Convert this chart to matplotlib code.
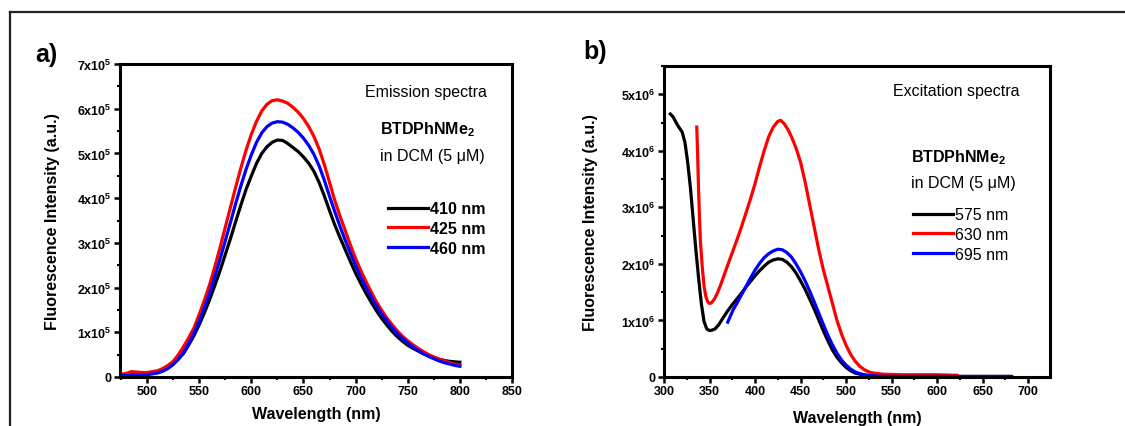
import numpy as np
import matplotlib
matplotlib.use("Agg")
import matplotlib.pyplot as plt
from matplotlib.lines import Line2D
from matplotlib.ticker import MultipleLocator, FixedLocator

plt.rcParams['font.family'] = ['Liberation Sans', 'DejaVu Sans']
plt.rcParams['mathtext.fontset'] = 'custom'
plt.rcParams['mathtext.bf'] = 'Liberation Sans:bold'
plt.rcParams['mathtext.rm'] = 'Liberation Sans'
plt.rcParams['mathtext.default'] = 'bf'

# ---- a) emission spectra (intensity in units of 1e5) ----
em_wl = [475, 480, 485, 490, 495, 500, 505, 510, 515, 520, 525, 530, 535, 540,
         545, 550, 555, 560, 565, 570, 575, 580, 585, 590, 595, 600, 605, 610,
         615, 620, 625, 630, 635, 640, 645, 650, 655, 660, 665, 670, 675, 680,
         685, 690, 695, 700, 705, 710, 715, 720, 725, 730, 735, 740, 745, 750,
         755, 760, 765, 770, 775, 780, 785, 790, 795, 800]
em_410 = [0.05, 0.05, 0.06, 0.06, 0.06, 0.07, 0.09, 0.11, 0.15, 0.21, 0.29, 0.40,
          0.53, 0.72, 0.93, 1.17, 1.44, 1.73, 2.05, 2.38, 2.74, 3.10, 3.48, 3.85,
          4.20, 4.50, 4.78, 5.00, 5.15, 5.25, 5.30, 5.29, 5.22, 5.13, 5.04, 4.92,
          4.78, 4.60, 4.35, 4.05, 3.72, 3.40, 3.12, 2.85, 2.58, 2.32, 2.09, 1.87,
          1.67, 1.48, 1.31, 1.16, 1.02, 0.90, 0.80, 0.71, 0.64, 0.58, 0.52, 0.47,
          0.43, 0.40, 0.37, 0.35, 0.34, 0.33]
em_425 = [0.06, 0.08, 0.12, 0.11, 0.10, 0.10, 0.12, 0.14, 0.19, 0.26, 0.35, 0.50,
          0.68, 0.88, 1.10, 1.40, 1.72, 2.07, 2.47, 2.90, 3.35, 3.80, 4.25, 4.68,
          5.08, 5.43, 5.72, 5.95, 6.10, 6.18, 6.20, 6.17, 6.12, 6.03, 5.92, 5.78,
          5.60, 5.38, 5.10, 4.75, 4.35, 3.95, 3.60, 3.28, 2.95, 2.65, 2.38, 2.13,
          1.90, 1.68, 1.49, 1.32, 1.17, 1.03, 0.91, 0.81, 0.72, 0.64, 0.57, 0.50,
          0.45, 0.40, 0.36, 0.32, 0.29, 0.26]
em_460 = [0.04, 0.03, 0.03, 0.03, 0.04, 0.05, 0.07, 0.09, 0.13, 0.19, 0.28, 0.40,
          0.55, 0.75, 0.98, 1.25, 1.55, 1.88, 2.25, 2.64, 3.05, 3.46, 3.88, 4.28,
          4.65, 4.97, 5.25, 5.46, 5.60, 5.68, 5.71, 5.70, 5.65, 5.57, 5.47, 5.34,
          5.18, 4.98, 4.72, 4.40, 4.04, 3.70, 3.37, 3.06, 2.77, 2.49, 2.23, 2.00,
          1.79, 1.59, 1.41, 1.25, 1.10, 0.97, 0.86, 0.76, 0.67, 0.59, 0.52, 0.46,
          0.41, 0.36, 0.32, 0.29, 0.26, 0.24]
em_labels = ['410 nm', '425 nm', '460 nm']

# ---- b) excitation spectra (intensity in units of 1e6) ----
ex575_wl = [307, 310, 315, 320, 323, 326, 329, 332, 335, 338, 341, 344, 347, 350,
            353, 356, 360, 365, 370, 375, 380, 385, 390, 395, 400, 405, 410, 415,
            420, 425, 430, 435, 440, 445, 450, 455, 460, 465, 470, 475, 480, 485,
            490, 495, 500, 505, 510, 515, 520, 530, 540, 560, 600, 640, 680]
ex575 = [4.65, 4.60, 4.45, 4.33, 4.15, 3.80, 3.35, 2.80, 2.25, 1.75, 1.30, 0.98,
         0.85, 0.82, 0.83, 0.85, 0.92, 1.05, 1.17, 1.28, 1.38, 1.48, 1.59, 1.69,
         1.79, 1.88, 1.96, 2.03, 2.07, 2.09, 2.08, 2.03, 1.95, 1.84, 1.70, 1.55,
         1.38, 1.20, 1.01, 0.82, 0.64, 0.48, 0.35, 0.25, 0.17, 0.11, 0.07, 0.05,
         0.03, 0.02, 0.01, 0.01, 0.01, 0.01, 0.01]
ex630_wl = [336, 337, 338, 339, 340, 342, 344, 346, 348, 350, 352, 355, 358, 362,
            366, 370, 375, 380, 385, 390, 395, 400, 405, 410, 415, 420, 425, 428,
            432, 436, 440, 445, 450, 455, 460, 465, 470, 475, 480, 485, 490, 495,
            500, 505, 510, 515, 520, 525, 530, 540, 560, 580, 600, 622]
ex630 = [4.42, 3.90, 3.30, 2.80, 2.40, 1.95, 1.60, 1.42, 1.33, 1.30, 1.31, 1.37,
         1.46, 1.62, 1.80, 1.98, 2.20, 2.42, 2.65, 2.90, 3.15, 3.42, 3.72, 4.00,
         4.25, 4.42, 4.52, 4.54, 4.48, 4.38, 4.25, 4.05, 3.80, 3.45, 3.05, 2.65,
         2.25, 1.90, 1.60, 1.30, 1.00, 0.76, 0.56, 0.40, 0.28, 0.19, 0.13, 0.09,
         0.07, 0.05, 0.04, 0.04, 0.04, 0.03]
ex695_wl = [370, 373, 376, 380, 385, 390, 395, 400, 405, 410, 415, 420, 425, 430,
            435, 440, 445, 450, 455, 460, 465, 470, 475, 480, 485, 490, 495, 500,
            505, 510, 515, 520, 530, 545, 580, 620, 650, 682]
ex695 = [0.97, 1.08, 1.19, 1.30, 1.45, 1.60, 1.75, 1.89, 2.01, 2.11, 2.18, 2.23,
         2.26, 2.25, 2.20, 2.12, 2.00, 1.86, 1.70, 1.52, 1.33, 1.13, 0.93, 0.74,
         0.57, 0.42, 0.30, 0.21, 0.14, 0.09, 0.06, 0.04, 0.02, 0.01, 0.01, 0.01,
         0.01, 0.01]
ex_labels = ['575 nm', '630 nm', '695 nm']

colors = ['black', '#ff0000', '#0000ff']


def sci_label(v, p):
    if v == 0:
        return '0'
    return '%dx10$^{%d}$' % (round(v / 10 ** p), p)


def style_axis(ax, xmaj, ymaj, p):
    for s in ax.spines.values():
        s.set_linewidth(2.2)
    ax.xaxis.set_major_locator(FixedLocator(xmaj))
    ax.xaxis.set_minor_locator(MultipleLocator(25))
    ax.yaxis.set_major_locator(FixedLocator(ymaj))
    ax.yaxis.set_minor_locator(MultipleLocator((ymaj[1] - ymaj[0]) / 2))
    ax.tick_params(which='major', direction='out', length=4, width=1.8,
                   labelsize=9, pad=2)
    ax.tick_params(which='minor', direction='out', length=2.5, width=1.5)
    ax.set_yticklabels([sci_label(v, p) for v in ymaj])
    for lab in ax.get_xticklabels() + ax.get_yticklabels():
        lab.set_fontweight('bold')
    ax.set_xlabel('Wavelength (nm)', fontsize=11.5, fontweight='bold', labelpad=1)
    ax.set_ylabel('Fluorescence Intensity (a.u.)', fontsize=11.5, fontweight='bold')


fig = plt.figure(figsize=(11.25, 4.27), dpi=100)

# outer frame (top and left edges visible)
fig.add_artist(Line2D([10 / 1125, 1], [1 - 13 / 427, 1 - 13 / 427],
                      color='#222222', lw=1.6, transform=fig.transFigure))
fig.add_artist(Line2D([10 / 1125, 10 / 1125], [0, 1 - 13 / 427],
                      color='#222222', lw=1.6, transform=fig.transFigure))

# ---- panel a ----
ax1 = fig.add_axes([120 / 1125, 1 - 378 / 427, 392 / 1125, 313 / 427])
for y, c, lab in zip([em_410, em_425, em_460], colors, em_labels):
    ax1.plot(em_wl, np.array(y) * 1e5, color=c, lw=2.3, label=lab)
ax1.set_xlim(474, 850)
ax1.set_ylim(0, 7e5)
style_axis(ax1, [500, 550, 600, 650, 700, 750, 800, 850],
           [i * 1e5 for i in range(8)], 5)
ax1.yaxis.set_label_coords(-0.153, 0.5)
ax1.xaxis.set_label_coords(0.5, -0.093)
ax1.text(0.935, 0.911, 'Emission spectra', transform=ax1.transAxes,
         ha='right', va='center', fontsize=11.5)
ax1.text(0.663, 0.792, 'BTDPhNMe$_2$', transform=ax1.transAxes,
         ha='left', va='center', fontsize=11.5, fontweight='bold')
ax1.text(0.663, 0.709, 'in DCM (5 \u03bcM)', transform=ax1.transAxes,
         ha='left', va='center', fontsize=11.5)
ax1.legend(loc='upper left', bbox_to_anchor=(0.684, 0.562), frameon=False,
           borderpad=0, borderaxespad=0, handlelength=2.5, handletextpad=0.15,
           labelspacing=0.3, prop={'size': 11.5, 'weight': 'bold'})
fig.text(35 / 1125, 1 - 55 / 427, 'a)', fontsize=18, fontweight='bold',
         ha='left', va='center')

# ---- panel b ----
ax2 = fig.add_axes([664 / 1125, 1 - 378 / 427, 386 / 1125, 311 / 427])
for x, y, c, lab in zip([ex575_wl, ex630_wl, ex695_wl], [ex575, ex630, ex695],
                        colors, ex_labels):
    ax2.plot(x, np.array(y) * 1e6, color=c, lw=2.3, label=lab)
ax2.set_xlim(300, 724)
ax2.set_ylim(0, 5.5e6)
style_axis(ax2, [300, 350, 400, 450, 500, 550, 600, 650, 700],
           [i * 1e6 for i in range(6)], 6)
ax2.yaxis.set_label_coords(-0.171, 0.5)
ax2.xaxis.set_label_coords(0.5, -0.105)
ax2.text(0.922, 0.920, 'Excitation spectra', transform=ax2.transAxes,
         ha='right', va='center', fontsize=11.5)
ax2.text(0.640, 0.707, 'BTDPhNMe$_2$', transform=ax2.transAxes,
         ha='left', va='center', fontsize=11.5, fontweight='bold')
ax2.text(0.640, 0.627, 'in DCM (5 \u03bcM)', transform=ax2.transAxes,
         ha='left', va='center', fontsize=11.5)
ax2.legend(loc='upper left', bbox_to_anchor=(0.645, 0.546), frameon=False,
           borderpad=0, borderaxespad=0, handlelength=2.5, handletextpad=0.15,
           labelspacing=0.3, prop={'size': 11.5})
fig.text(583 / 1125, 1 - 52 / 427, 'b)', fontsize=18, fontweight='bold',
         ha='left', va='center')

fig.savefig('out.png', dpi=100)
